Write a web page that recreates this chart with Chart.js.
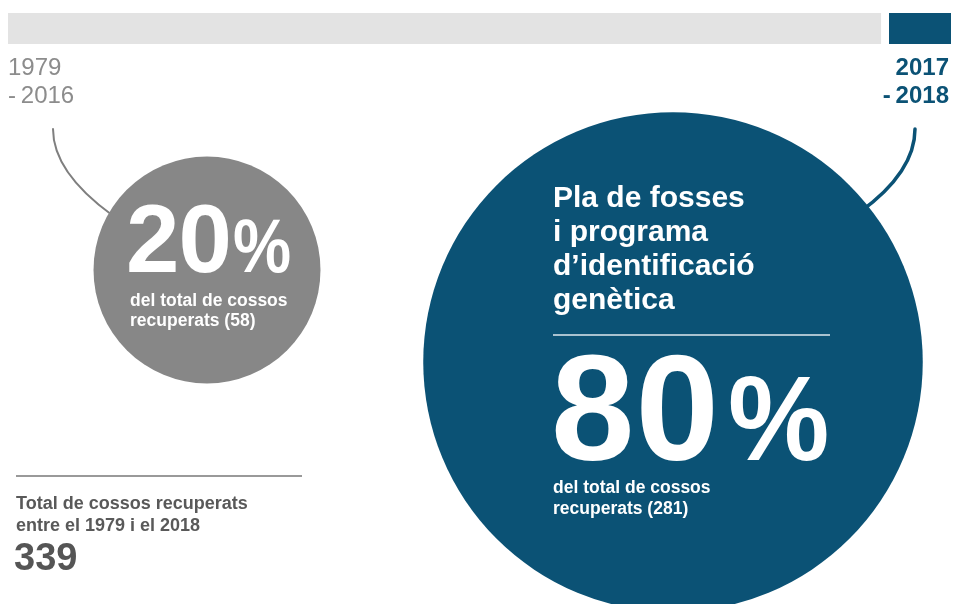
<!DOCTYPE html>
<html>
<head>
<meta charset="utf-8">
<script src="https://cdn.jsdelivr.net/npm/chart.js@4.4.0/dist/chart.umd.min.js"></script>
<style>
  html, body { margin: 0; padding: 0; background: #fff; overflow: hidden; }
  body { width: 953px; height: 604px; position: relative; font-family: "Liberation Sans", Arial, sans-serif; }
  canvas { position: absolute; left: 0; top: 0; }
  .t { position: absolute; white-space: nowrap; z-index: 2; }
  .rule { position: absolute; z-index: 2; }
</style>
</head>
<body>
<canvas id="barChart" width="953" height="57"></canvas>
<canvas id="bubbleChart" width="953" height="604"></canvas>

<div class="t" id="yearsOld" style="left:8px;top:53px;font-size:24px;line-height:28px;color:#8c8c8c;"></div>
<div class="t" id="yearsNew" style="right:4px;top:53px;font-size:24px;line-height:28px;color:#0b5275;font-weight:bold;text-align:right;"></div>

<div class="t" id="bigOld" style="left:126px;top:191px;font-size:96px;line-height:96px;color:#fff;font-weight:bold;letter-spacing:-1px;"></div>
<div class="t" id="smallOld" style="left:130px;top:290px;font-size:17.5px;line-height:20px;color:#fff;font-weight:bold;"></div>

<div class="t" id="title" style="left:553px;top:180px;font-size:30px;line-height:34px;color:#fff;font-weight:bold;">Pla de fosses<br>i programa<br>d’identificació<br>genètica</div>
<div class="rule" style="left:553px;top:334px;width:277px;height:2px;background:#a9c2d0;"></div>
<div class="t" id="bigNew" style="left:551px;top:333px;font-size:150px;line-height:150px;color:#fff;font-weight:bold;letter-spacing:1px;"></div>
<div class="t" id="smallNew" style="left:553px;top:477px;font-size:17.5px;line-height:21px;color:#fff;font-weight:bold;"></div>

<div class="rule" style="left:16px;top:475px;width:286px;height:2px;background:#999;"></div>
<div class="t" style="left:16px;top:492px;font-size:18px;line-height:22px;color:#595959;font-weight:bold;">Total de cossos recuperats<br>entre el 1979 i el 2018</div>
<div class="t" id="total" style="left:14px;top:538px;font-size:38px;line-height:38px;color:#555;font-weight:bold;"></div>

<script>
// periods and counts
const periods = ["1979-2016", "2017-2018"];
const bodies = [58, 281];
const shares = [20, 80];
// length of each period on the top strip, % of strip
const stripShare = [93.4, 6.6];

const colors = ["#878787", "#0b5275"];
const stripColors = ["#e3e3e3", "#0b5275"];

// where the two bubbles sit on the page (px)
const layout = { centers: [[207, 270], [673, 362]], radiusK: 14.9 };

const total = bodies.reduce((a, b) => a + b, 0);

function yearLines(p) {
  const parts = p.split("-");
  return parts[0] + "<br>-\u2009" + parts[1];
}
function pct(v, size, sx, gap) {
  return v + '<span style="display:inline-block;line-height:1;font-size:' + size +
    'px;transform:scaleX(' + sx + ');transform-origin:left;margin-left:' + gap + 'px;">%</span>';
}

document.getElementById("yearsOld").innerHTML = yearLines(periods[0]);
document.getElementById("yearsNew").innerHTML = yearLines(periods[1]);
document.getElementById("bigOld").innerHTML = pct(shares[0], 76, 0.86, 2);
document.getElementById("bigNew").innerHTML = pct(shares[1], 120, 0.95, 8);
document.getElementById("smallOld").innerHTML = "del total de cossos<br>recuperats (" + bodies[0] + ")";
document.getElementById("smallNew").innerHTML = "del total de cossos<br>recuperats (" + bodies[1] + ")";
document.getElementById("total").textContent = total;

// top strip
new Chart("barChart", {
  type: "bar",
  data: {
    labels: ["periodes"],
    datasets: [
      {
        label: periods[0],
        data: [stripShare[0]],
        backgroundColor: stripColors[0],
        borderColor: "#fff",
        borderWidth: { top: 0, right: 8, bottom: 0, left: 0 },
        borderSkipped: false
      },
      {
        label: periods[1],
        data: [stripShare[1]],
        backgroundColor: stripColors[1],
        borderWidth: 0
      }
    ]
  },
  options: {
    indexAxis: "y",
    responsive: false,
    animation: false,
    events: [],
    layout: { padding: { left: 8, right: 2, top: 13, bottom: 13 } },
    datasets: { bar: { barPercentage: 1, categoryPercentage: 1 } },
    plugins: { legend: { display: false }, tooltip: { enabled: false } },
    scales: {
      x: { stacked: true, min: 0, max: 100, display: false },
      y: { stacked: true, display: false }
    }
  }
});

// curved leader lines from the year labels to the bubbles
const leaders = {
  id: "leaders",
  beforeDatasetsDraw(chart) {
    const ctx = chart.ctx;
    ctx.save();
    ctx.lineCap = "round";
    ctx.strokeStyle = "#7f7f7f";
    ctx.lineWidth = 2;
    ctx.beginPath();
    ctx.moveTo(53, 129);
    ctx.quadraticCurveTo(53, 172, 112, 215);
    ctx.stroke();
    ctx.strokeStyle = colors[1];
    ctx.lineWidth = 3.5;
    ctx.beginPath();
    ctx.moveTo(915, 129);
    ctx.quadraticCurveTo(915, 172, 860, 212);
    ctx.stroke();
    ctx.restore();
  }
};

new Chart("bubbleChart", {
  type: "bubble",
  data: {
    labels: periods,
    datasets: [{
      data: bodies.map((v, i) => ({
        x: layout.centers[i][0],
        y: layout.centers[i][1],
        r: layout.radiusK * Math.sqrt(v)
      })),
      backgroundColor: colors,
      borderWidth: 0,
      hoverRadius: 0,
      clip: false
    }]
  },
  options: {
    responsive: false,
    animation: false,
    events: [],
    layout: { padding: 0, autoPadding: false },
    plugins: { legend: { display: false }, tooltip: { enabled: false } },
    scales: {
      x: { type: "linear", min: 0, max: 953, display: false },
      y: { type: "linear", min: 0, max: 604, reverse: true, display: false }
    }
  },
  plugins: [leaders]
});
</script>
</body>
</html>
